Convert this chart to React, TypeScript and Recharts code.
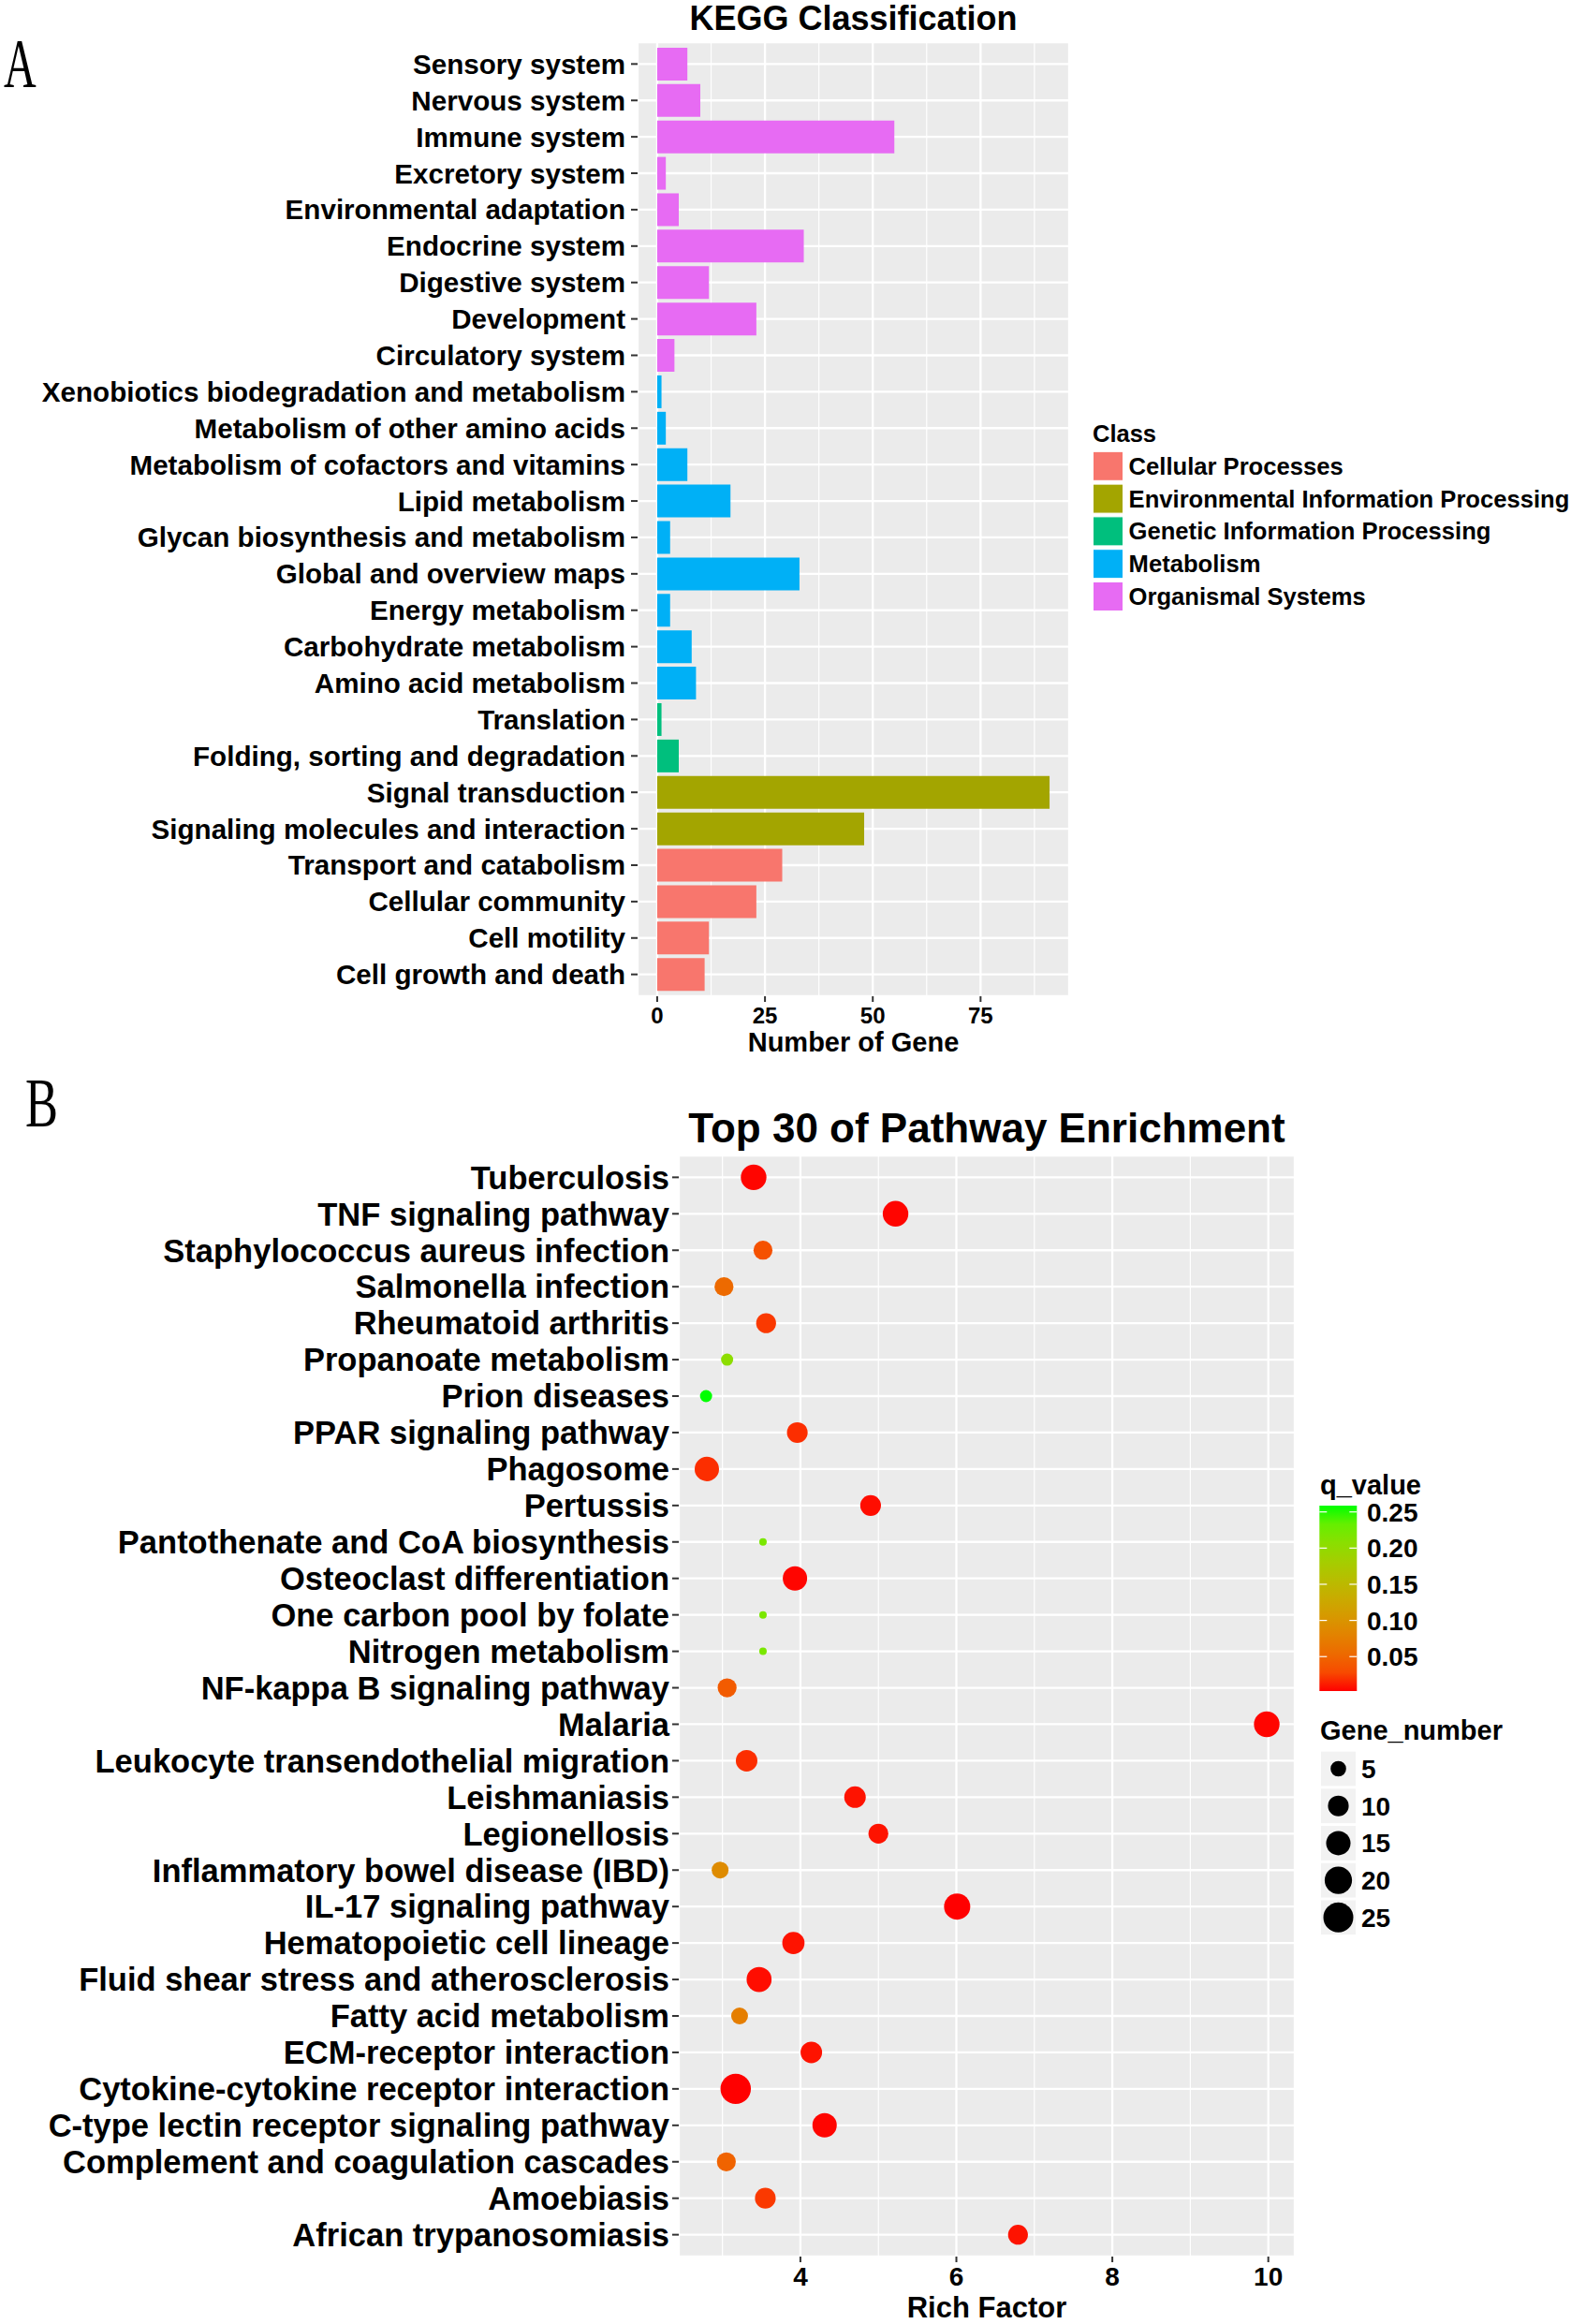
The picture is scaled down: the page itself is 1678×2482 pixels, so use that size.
import React from 'react';
import {
  BarChart,
  Bar,
  Cell,
  XAxis,
  YAxis,
  ZAxis,
  CartesianGrid,
  Legend,
  ScatterChart,
  Scatter,
} from 'recharts';

// ---- Panel A: KEGG classification ----
const KEGG_TERMS = [
  'Sensory system',
  'Nervous system',
  'Immune system',
  'Excretory system',
  'Environmental adaptation',
  'Endocrine system',
  'Digestive system',
  'Development',
  'Circulatory system',
  'Xenobiotics biodegradation and metabolism',
  'Metabolism of other amino acids',
  'Metabolism of cofactors and vitamins',
  'Lipid metabolism',
  'Glycan biosynthesis and metabolism',
  'Global and overview maps',
  'Energy metabolism',
  'Carbohydrate metabolism',
  'Amino acid metabolism',
  'Translation',
  'Folding, sorting and degradation',
  'Signal transduction',
  'Signaling molecules and interaction',
  'Transport and catabolism',
  'Cellular community',
  'Cell motility',
  'Cell growth and death',
];
const KEGG_GENES = [7, 10, 55, 2, 5, 34, 12, 23, 4, 1, 2, 7, 17, 3, 33, 3, 8, 9, 1, 5, 91, 48, 29, 23, 12, 11];
const KEGG_CLASS = [
  'Organismal Systems', 'Organismal Systems', 'Organismal Systems', 'Organismal Systems',
  'Organismal Systems', 'Organismal Systems', 'Organismal Systems', 'Organismal Systems',
  'Organismal Systems',
  'Metabolism', 'Metabolism', 'Metabolism', 'Metabolism', 'Metabolism',
  'Metabolism', 'Metabolism', 'Metabolism', 'Metabolism',
  'Genetic Information Processing', 'Genetic Information Processing',
  'Environmental Information Processing', 'Environmental Information Processing',
  'Cellular Processes', 'Cellular Processes', 'Cellular Processes', 'Cellular Processes',
];
const CLASS_NAMES = [
  'Cellular Processes',
  'Environmental Information Processing',
  'Genetic Information Processing',
  'Metabolism',
  'Organismal Systems',
];
const CLASS_COLORS = ['#F8766D', '#A3A500', '#00BF7D', '#00B0F6', '#E76BF3'];
const GENE_TICKS = [0, 25, 50, 75];
const GENE_MINOR = [12.5, 37.5, 62.5, 87.5];
const GENE_DOMAIN = [-4.55, 95.55];

// ---- Panel B: top 30 pathway enrichment ----
const PATHWAYS = [
  'Tuberculosis',
  'TNF signaling pathway',
  'Staphylococcus aureus infection',
  'Salmonella infection',
  'Rheumatoid arthritis',
  'Propanoate metabolism',
  'Prion diseases',
  'PPAR signaling pathway',
  'Phagosome',
  'Pertussis',
  'Pantothenate and CoA biosynthesis',
  'Osteoclast differentiation',
  'One carbon pool by folate',
  'Nitrogen metabolism',
  'NF-kappa B signaling pathway',
  'Malaria',
  'Leukocyte transendothelial migration',
  'Leishmaniasis',
  'Legionellosis',
  'Inflammatory bowel disease (IBD)',
  'IL-17 signaling pathway',
  'Hematopoietic cell lineage',
  'Fluid shear stress and atherosclerosis',
  'Fatty acid metabolism',
  'ECM-receptor interaction',
  'Cytokine-cytokine receptor interaction',
  'C-type lectin receptor signaling pathway',
  'Complement and coagulation cascades',
  'Amoebiasis',
  'African trypanosomiasis',
];
const RICH_FACTOR = [
  3.4, 5.22, 3.52, 3.02, 3.56, 3.06, 2.79, 3.96, 2.8, 4.9,
  3.52, 3.93, 3.52, 3.52, 3.06, 9.98, 3.31, 4.7, 5.0, 2.97,
  6.01, 3.91, 3.47, 3.22, 4.14, 3.17, 4.31, 3.05, 3.55, 6.79,
];
const GENE_NUMBER = [
  17, 17, 8, 8, 9, 3, 3, 10, 15, 10,
  2, 15, 2, 2, 8, 17, 11, 11, 9, 6,
  18, 12, 16, 6, 11, 26, 15, 8, 10, 9,
];
const Q_VALUE = [
  0.003, 0.003, 0.033, 0.054, 0.018, 0.205, 0.2587, 0.013, 0.013, 0.004,
  0.22, 0.003, 0.22, 0.22, 0.041, 0.003, 0.013, 0.005, 0.005, 0.09,
  0.002, 0.005, 0.004, 0.074, 0.005, 0.0024, 0.003, 0.048, 0.018, 0.005,
];
const RICH_TICKS = [4, 6, 8, 10];
const RICH_MINOR = [3, 5, 7, 9];
const RICH_DOMAIN = [2.44, 10.34];
const Q_LIMITS = [0.0024, 0.2587];
const Q_TICKS = [0.05, 0.1, 0.15, 0.2, 0.25];
const SIZE_TICKS = [5, 10, 15, 20, 25];
const SIZE_RANGE = [8, 33];

const FONT = '"Liberation Sans", Arial, Helvetica, sans-serif';
const PANEL_BG = '#EBEBEB';

// colour gradient red -> green, interpolated in Lab like ggplot's scale_colour_gradient
function hexToLab(hex: string) {
  const v = [1, 3, 5].map((i) => {
    const c = parseInt(hex.slice(i, i + 2), 16) / 255;
    return c <= 0.04045 ? c / 12.92 : Math.pow((c + 0.055) / 1.055, 2.4);
  });
  const X = (0.4124 * v[0] + 0.3576 * v[1] + 0.1805 * v[2]) / 0.95047;
  const Y = 0.2126 * v[0] + 0.7152 * v[1] + 0.0722 * v[2];
  const Z = (0.0193 * v[0] + 0.1192 * v[1] + 0.9505 * v[2]) / 1.08883;
  const f = (t: number) => (t > 0.008856 ? Math.cbrt(t) : t / 0.128418 + 4 / 29);
  return [116 * f(Y) - 16, 500 * (f(X) - f(Y)), 200 * (f(Y) - f(Z))];
}

function labToHex(L: number, a: number, b: number) {
  const fy = (L + 16) / 116;
  const fx = fy + a / 500;
  const fz = fy - b / 200;
  const inv = (t: number) => (t > 6 / 29 ? t * t * t : 0.128418 * (t - 4 / 29));
  const X = inv(fx) * 0.95047;
  const Y = inv(fy);
  const Z = inv(fz) * 1.08883;
  const lin = [
    3.2406 * X - 1.5372 * Y - 0.4986 * Z,
    -0.9689 * X + 1.8758 * Y + 0.0415 * Z,
    0.0557 * X - 0.204 * Y + 1.057 * Z,
  ];
  return (
    '#' +
    lin
      .map((c) => {
        const g = c <= 0.0031308 ? 12.92 * c : 1.055 * Math.pow(c, 1 / 2.4) - 0.055;
        const n = Math.round(Math.min(1, Math.max(0, g)) * 255);
        return n.toString(16).padStart(2, '0');
      })
      .join('')
  );
}

const LOW_LAB = hexToLab('#FF0000');
const HIGH_LAB = hexToLab('#00FF00');

function gradientColor(t: number) {
  const k = Math.min(1, Math.max(0, t));
  return labToHex(
    LOW_LAB[0] + (HIGH_LAB[0] - LOW_LAB[0]) * k,
    LOW_LAB[1] + (HIGH_LAB[1] - LOW_LAB[1]) * k,
    LOW_LAB[2] + (HIGH_LAB[2] - LOW_LAB[2]) * k,
  );
}

function qColor(q: number) {
  return gradientColor((q - Q_LIMITS[0]) / (Q_LIMITS[1] - Q_LIMITS[0]));
}

// size key, same mapping the ZAxis uses (sqrt of genes above the minimum)
const sizeKey = (n: number) => Math.sqrt(Math.max(0, n - 2));
const geneDiameter = (n: number) => SIZE_RANGE[0] + ((SIZE_RANGE[1] - SIZE_RANGE[0]) * sizeKey(n)) / 5;

const keggData = KEGG_TERMS.map((name, i) => ({
  name,
  genes: KEGG_GENES[i],
  cls: KEGG_CLASS[i],
}));

const pathwayData = PATHWAYS.map((name, i) => ({
  name,
  row: i,
  rich: RICH_FACTOR[i],
  genes: GENE_NUMBER[i],
  q: Q_VALUE[i],
}));

function KeggYTick(props: any) {
  return (
    <text x={props.x} y={props.y} dy={10.5} textAnchor="end" fontSize={29.6} fontWeight="bold" fill="#000">
      {props.payload.value}
    </text>
  );
}

function KeggXTick(props: any) {
  return (
    <text x={props.x} y={props.y} dy={21} textAnchor="middle" fontSize={24} fontWeight="bold" fill="#000">
      {props.payload.value}
    </text>
  );
}

function PathYTick(props: any) {
  return (
    <text x={props.x} y={props.y} dy={12.3} textAnchor="end" fontSize={34.5} fontWeight="bold" fill="#000">
      {PATHWAYS[props.payload.value]}
    </text>
  );
}

function PathXTick(props: any) {
  return (
    <text x={props.x} y={props.y} dy={23} textAnchor="middle" fontSize={28} fontWeight="bold" fill="#000">
      {props.payload.value}
    </text>
  );
}

function ClassLegend() {
  return (
    <svg width={528} height={230} style={{ display: 'block', fontFamily: FONT }}>
      <text x={17} y={42} fontSize={25.5} fontWeight="bold" fill="#000">
        Class
      </text>
      {CLASS_NAMES.map((c, i) => (
        <g key={c}>
          <rect x={17.5} y={52.3 + i * 34.8} width={32} height={31} fill={CLASS_COLORS[i]} stroke="#fff" strokeWidth={1} />
          <text x={55.6} y={76.8 + i * 34.8} fontSize={25.6} fontWeight="bold" fill="#000">
            {c}
          </text>
        </g>
      ))}
    </svg>
  );
}

function EnrichLegend() {
  const barTop = 48;
  const barH = 198;
  const qy = (q: number) => barTop + barH - ((q - Q_LIMITS[0]) / (Q_LIMITS[1] - Q_LIMITS[0])) * barH;
  const stops = [0, 0.1, 0.2, 0.3, 0.4, 0.5, 0.6, 0.7, 0.8, 0.9, 1];
  return (
    <svg width={298} height={520} style={{ display: 'block', fontFamily: FONT }}>
      <defs>
        <linearGradient id="qbar" x1="0" y1="1" x2="0" y2="0">
          {stops.map((t) => (
            <stop key={t} offset={t} stopColor={gradientColor(t)} />
          ))}
        </linearGradient>
      </defs>
      <text x={30} y={36} fontSize={29} fontWeight="bold" fill="#000">
        q_value
      </text>
      <rect x={29.3} y={barTop} width={40} height={barH} fill="url(#qbar)" />
      {Q_TICKS.map((q) => (
        <g key={q}>
          <line x1={29.3} x2={37.3} y1={qy(q)} y2={qy(q)} stroke="#fff" strokeWidth={1.2} />
          <line x1={61.3} x2={69.3} y1={qy(q)} y2={qy(q)} stroke="#fff" strokeWidth={1.2} />
          <text x={80} y={qy(q) + 10} fontSize={28} fontWeight="bold" fill="#000">
            {q.toFixed(2)}
          </text>
        </g>
      ))}
      <text x={30} y={298} fontSize={29} fontWeight="bold" fill="#000">
        Gene_number
      </text>
      {SIZE_TICKS.map((n, i) => {
        const cy = 329 + i * 39.7;
        return (
          <g key={n}>
            <rect x={31} y={cy - 18.3} width={37} height={36.7} fill="#F2F2F2" />
            <circle cx={49.5} cy={cy} r={geneDiameter(n) / 2} fill="#000" />
            <text x={74} y={cy + 10} fontSize={28} fontWeight="bold" fill="#000">
              {n}
            </text>
          </g>
        );
      })}
    </svg>
  );
}

function KeggChart() {
  return (
    <BarChart
      width={1678}
      height={1140}
      data={keggData}
      layout="vertical"
      margin={{ top: 45, right: 536, bottom: 0, left: 0 }}
    >
      <CartesianGrid xAxisId="minor" horizontal={false} stroke="#fff" strokeWidth={1.2} fill={PANEL_BG} />
      <CartesianGrid stroke="#fff" strokeWidth={2.3} />
      <XAxis
        xAxisId="minor"
        type="number"
        domain={GENE_DOMAIN}
        ticks={GENE_MINOR}
        allowDataOverflow
        hide
      />
      <XAxis
        type="number"
        domain={GENE_DOMAIN}
        ticks={GENE_TICKS}
        allowDataOverflow
        height={76}
        axisLine={false}
        tickLine={{ stroke: '#333', strokeWidth: 2 }}
        tickSize={6}
        tick={<KeggXTick />}
        interval={0}
        label={{
          value: 'Number of Gene',
          position: 'insideBottom',
          offset: 17,
          fill: '#000',
          fontSize: 29,
          fontWeight: 'bold',
        }}
      />
      <YAxis
        type="category"
        dataKey="name"
        width={681}
        padding={{ top: 3.9, bottom: 3.9 }}
        axisLine={false}
        tickLine={{ stroke: '#333', strokeWidth: 2 }}
        tickSize={7}
        tickMargin={6}
        tick={<KeggYTick />}
        interval={0}
      />
      <Bar dataKey="genes" barSize={35} isAnimationActive={false}>
        {keggData.map((d, i) => (
          <Cell key={`bar-${i}`} fill={CLASS_COLORS[CLASS_NAMES.indexOf(d.cls)]} />
        ))}
      </Bar>
      <Legend
        layout="vertical"
        align="center"
        verticalAlign="middle"
        content={() => <ClassLegend />}
        wrapperStyle={{ left: 1150, top: 430, width: 528, height: 230 }}
      />
    </BarChart>
  );
}

function EnrichmentChart() {
  return (
    <ScatterChart width={1678} height={1342} margin={{ top: 94, right: 295, bottom: 0, left: 0 }}>
      <CartesianGrid xAxisId="minor" horizontal={false} stroke="#fff" strokeWidth={1.2} fill={PANEL_BG} />
      <CartesianGrid stroke="#fff" strokeWidth={2.3} />
      <XAxis
        xAxisId="minor"
        type="number"
        dataKey="rich"
        domain={RICH_DOMAIN}
        ticks={RICH_MINOR}
        allowDataOverflow
        hide
      />
      <XAxis
        type="number"
        dataKey="rich"
        domain={RICH_DOMAIN}
        ticks={RICH_TICKS}
        allowDataOverflow
        height={72}
        axisLine={false}
        tickLine={{ stroke: '#333', strokeWidth: 2 }}
        tickSize={6}
        tick={<PathXTick />}
        interval={0}
        label={{
          value: 'Rich Factor',
          position: 'insideBottom',
          offset: 7,
          fill: '#000',
          fontSize: 31,
          fontWeight: 'bold',
        }}
      />
      <YAxis
        type="number"
        dataKey="row"
        domain={[-0.6, PATHWAYS.length - 0.4]}
        ticks={PATHWAYS.map((_, i) => i)}
        reversed
        allowDataOverflow
        width={725}
        axisLine={false}
        tickLine={{ stroke: '#333', strokeWidth: 2 }}
        tickSize={7}
        tickMargin={3}
        tick={<PathYTick />}
        interval={0}
      />
      <ZAxis type="number" dataKey={(d: any) => sizeKey(d.genes)} domain={[0, 5]} range={SIZE_RANGE} />
      <Scatter
        data={pathwayData}
        isAnimationActive={false}
        shape={(p: any) => (
          <circle cx={p.cx} cy={p.cy} r={(p.size ?? 10) / 2} fill={qColor(p.payload.q)} />
        )}
      />
      <Legend
        layout="vertical"
        align="center"
        verticalAlign="middle"
        content={() => <EnrichLegend />}
        wrapperStyle={{ left: 1380, top: 420, width: 298, height: 520 }}
      />
    </ScatterChart>
  );
}

export default function App() {
  return (
    <div
      style={{
        position: 'absolute',
        left: 0,
        top: 0,
        width: 1678,
        height: 2482,
        background: '#fff',
        fontFamily: FONT,
        overflow: 'hidden',
      }}
    >
      <div style={{ position: 'absolute', left: 0, top: 0 }}>
        <KeggChart />
      </div>
      <div style={{ position: 'absolute', left: 0, top: 1140 }}>
        <EnrichmentChart />
      </div>
      <svg
        width={1678}
        height={2482}
        style={{ position: 'absolute', left: 0, top: 0, pointerEvents: 'none' }}
      >
        <text x={911.5} y={32} textAnchor="middle" fontSize={36} fontWeight="bold" fill="#000" fontFamily={FONT}>
          KEGG Classification
        </text>
        <text x={1054} y={1220} textAnchor="middle" fontSize={44} fontWeight="bold" fill="#000" fontFamily={FONT}>
          Top 30 of Pathway Enrichment
        </text>
        <text
          transform="translate(4,93) scale(0.64,1)"
          fontSize={75}
          fill="#000"
          fontFamily='"Liberation Serif", "DejaVu Serif", serif'
        >
          A
        </text>
        <text
          transform="translate(27,1203) scale(0.7,1)"
          fontSize={75}
          fill="#000"
          fontFamily='"Liberation Serif", "DejaVu Serif", serif'
        >
          B
        </text>
      </svg>
    </div>
  );
}
